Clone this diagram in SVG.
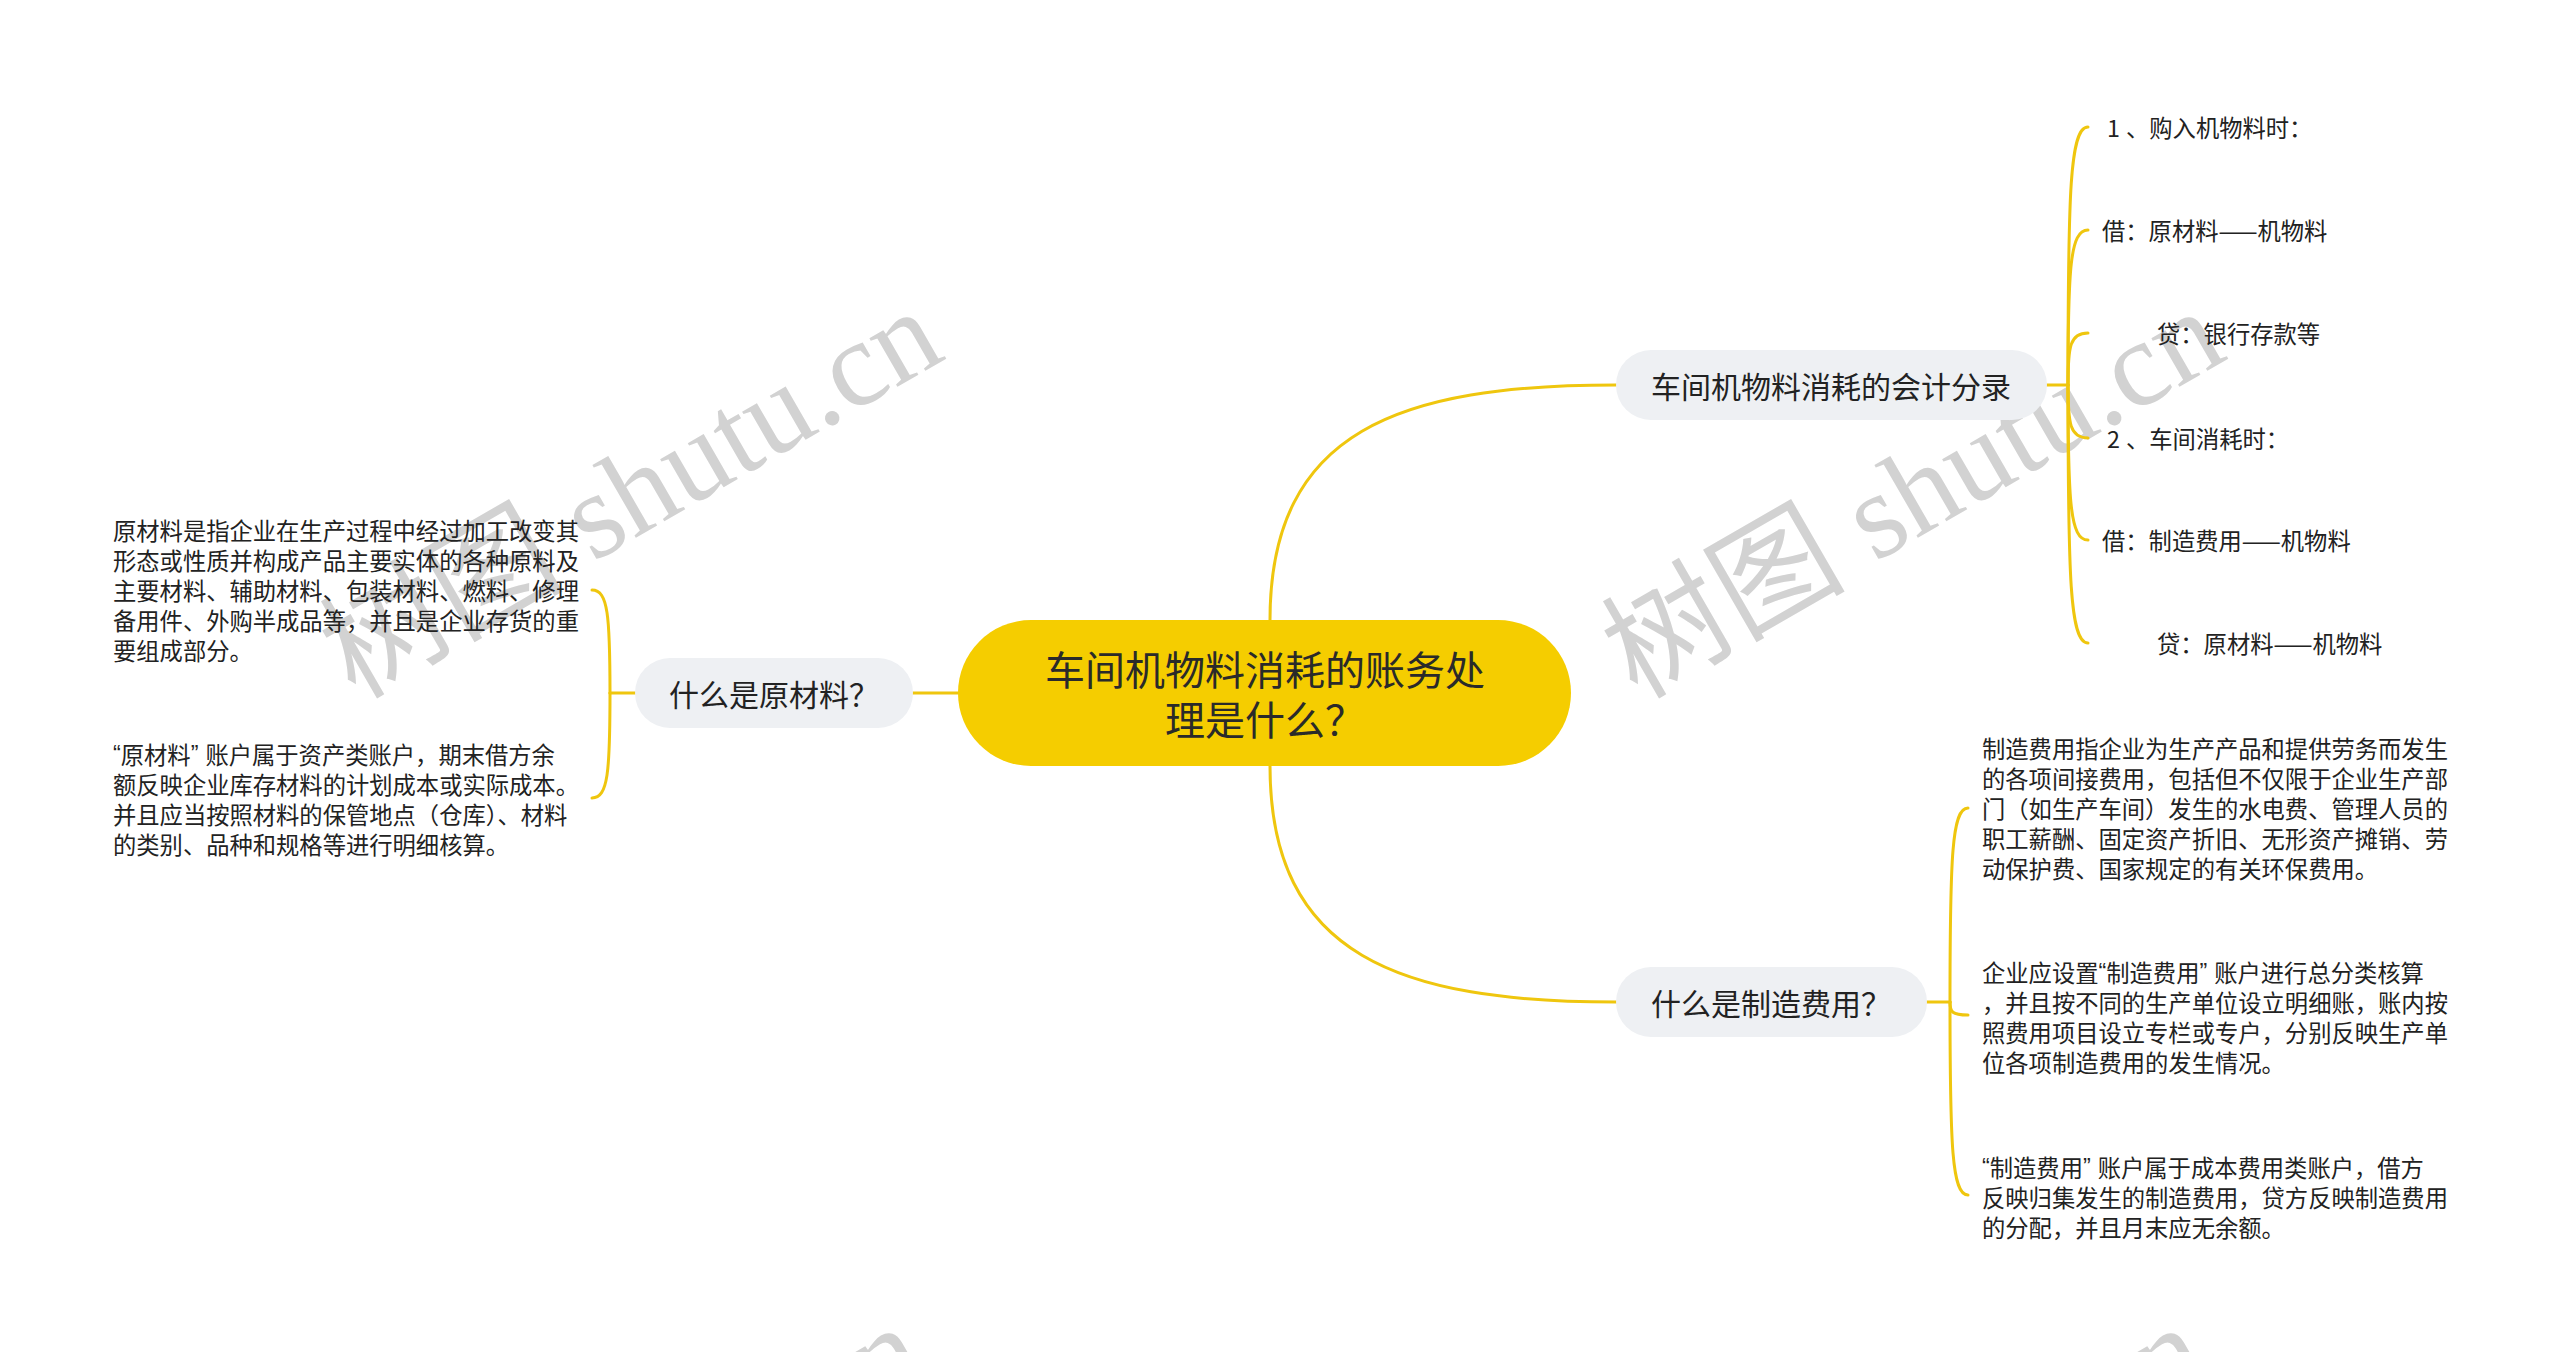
<svg xmlns="http://www.w3.org/2000/svg" width="2560" height="1352" viewBox="0 0 2560 1352">
<style>
.wm{font-family:"Liberation Serif","Noto Sans CJK SC",serif;font-size:122px;fill:#d2d2d2}
.line{fill:none;stroke:#EFC60E;stroke-width:3;stroke-linecap:round}
.t{font-family:"Noto Sans CJK SC","Noto Sans",sans-serif;font-size:23.3px;fill:#222;dominant-baseline:central}
.q{font-family:"Liberation Sans","Noto Sans CJK SC",sans-serif}
.qc{font-family:"Liberation Sans","Noto Sans CJK SC",sans-serif;letter-spacing:7px}
.nt{font-family:"Noto Sans CJK SC","Noto Sans",sans-serif;font-size:30px;fill:#222;dominant-baseline:central;text-anchor:middle}
.ct{font-family:"Noto Sans CJK SC","Noto Sans",sans-serif;font-size:40px;fill:#2a2a2a;dominant-baseline:central;text-anchor:middle}
.sub{fill:#EEF0F3}
</style>
<rect width="2560" height="1352" fill="#ffffff"/>
<g id="watermarks">
<text class="wm" transform="translate(355,700) rotate(-30)">树图 shutu.cn</text>
<text class="wm" transform="translate(1637,700) rotate(-30)">树图 shutu.cn</text>
<text class="wm" transform="translate(337,1716) rotate(-30)">树图 shutu.cn</text>
<text class="wm" transform="translate(1619,1716) rotate(-30)">树图 shutu.cn</text>
</g>
<g id="connectors">
<path class="line" d="M1270 620 C1270 430 1400 385 1616 385"/>
<path class="line" d="M1270 766 C1270 956 1400 1002 1616 1002"/>
<path class="line" d="M913 693 H958"/>
<path class="line" d="M2047 385 H2068"/>
<path class="line" d="M2068 385 C2068 191.5 2070 127 2088 127"/>
<path class="line" d="M2068 385 C2068 269 2070 230 2088 230"/>
<path class="line" d="M2068 385 C2068 346 2070 333 2088 333"/>
<path class="line" d="M2068 385 C2068 424 2070 438 2088 438"/>
<path class="line" d="M2068 385 C2068 501 2070 540 2088 540"/>
<path class="line" d="M2068 385 C2068 578.5 2070 643 2088 643"/>
<path class="line" d="M1927 1002 H1950"/>
<path class="line" d="M1950 1002 C1950 856.5 1952 808 1968 808"/>
<path class="line" d="M1950 1002 C1950 1012 1952 1015 1968 1015"/>
<path class="line" d="M1950 1002 C1950 1147 1952 1195 1968 1195"/>
<path class="line" d="M635 693 H610"/>
<path class="line" d="M610 693 C610 616 608 590 592 590"/>
<path class="line" d="M610 693 C610 772 608 798 592 798"/>
</g>
<g id="root">
<rect x="958" y="620" width="613" height="146" rx="73" fill="#F5CD00"/>
<text class="ct" x="1265" y="668">车间机物料消耗的账务处</text>
<text class="ct" x="1265" y="718">理是什么？</text>
</g>
<g id="node-accounting">
<rect class="sub" x="1616" y="350" width="431" height="70" rx="35"/>
<text class="nt" x="1831" y="385">车间机物料消耗的会计分录</text>
</g>
<g id="node-raw">
<rect class="sub" x="635" y="658" width="278" height="70" rx="35"/>
<text class="nt" x="774" y="693">什么是原材料？</text>
</g>
<g id="node-overhead">
<rect class="sub" x="1616" y="967" width="311" height="70" rx="35"/>
<text class="nt" x="1771" y="1002">什么是制造费用？</text>
</g>
<g id="leaf-a1"><text class="t" x="2107" y="127">1<tspan x="2126">、购入机物料时：</tspan></text></g>
<g id="leaf-a2"><text class="t" x="2102" y="230">借：原材料——机物料</text></g>
<g id="leaf-a3"><text class="t" x="2157" y="333">贷：银行存款等</text></g>
<g id="leaf-a4"><text class="t" x="2107" y="438">2<tspan x="2126">、车间消耗时：</tspan></text></g>
<g id="leaf-a5"><text class="t" x="2102" y="540">借：制造费用——机物料</text></g>
<g id="leaf-a6"><text class="t" x="2157" y="643">贷：原材料——机物料</text></g>
<g id="leaf-r1">
<text class="t" x="113" y="530">原材料是指企业在生产过程中经过加工改变其</text>
<text class="t" x="113" y="560">形态或性质并构成产品主要实体的各种原料及</text>
<text class="t" x="113" y="590">主要材料、辅助材料、包装材料、燃料、修理</text>
<text class="t" x="113" y="620">备用件、外购半成品等，并且是企业存货的重</text>
<text class="t" x="113" y="650">要组成部分。</text>
</g>
<g id="leaf-r2">
<text class="t" x="113" y="754"><tspan class="q">“</tspan>原材料<tspan class="qc">”</tspan>账户属于资产类账户，期末借方余</text>
<text class="t" x="113" y="784">额反映企业库存材料的计划成本或实际成本。</text>
<text class="t" x="113" y="814">并且应当按照材料的保管地点（仓库）、材料</text>
<text class="t" x="113" y="844">的类别、品种和规格等进行明细核算。</text>
</g>
<g id="leaf-o1">
<text class="t" x="1982" y="748">制造费用指企业为生产产品和提供劳务而发生</text>
<text class="t" x="1982" y="778">的各项间接费用，包括但不仅限于企业生产部</text>
<text class="t" x="1982" y="808">门（如生产车间）发生的水电费、管理人员的</text>
<text class="t" x="1982" y="838">职工薪酬、固定资产折旧、无形资产摊销、劳</text>
<text class="t" x="1982" y="868">动保护费、国家规定的有关环保费用。</text>
</g>
<g id="leaf-o2">
<text class="t" x="1982" y="972">企业应设置<tspan class="q">“</tspan>制造费用<tspan class="qc">”</tspan>账户进行总分类核算</text>
<text class="t" x="1982" y="1002">，并且按不同的生产单位设立明细账，账内按</text>
<text class="t" x="1982" y="1032">照费用项目设立专栏或专户，分别反映生产单</text>
<text class="t" x="1982" y="1062">位各项制造费用的发生情况。</text>
</g>
<g id="leaf-o3">
<text class="t" x="1982" y="1167"><tspan class="q">“</tspan>制造费用<tspan class="qc">”</tspan>账户属于成本费用类账户，借方</text>
<text class="t" x="1982" y="1197">反映归集发生的制造费用，贷方反映制造费用</text>
<text class="t" x="1982" y="1227">的分配，并且月末应无余额。</text>
</g>
</svg>
